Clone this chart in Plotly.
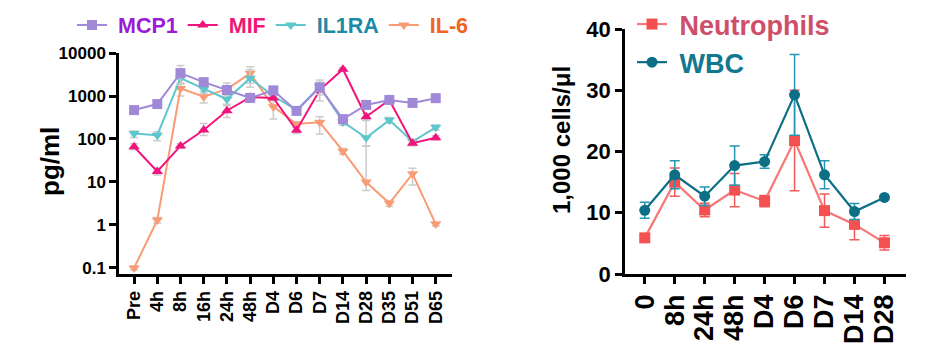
import plotly.graph_objects as go

# ---- Cytokine time course (pg/ml, log scale) ----
timepoints = ["Pre", "4h", "8h", "16h", "24h", "48h", "D4", "D6", "D7",
              "D14", "D28", "D35", "D51", "D65"]

mcp1 = [470, 650, 3400, 2100, 1380, 900, 1350, 450, 1590, 290, 620, 810, 690, 890]
mcp1_up = [80, 120, 1700, 400, 300, 100, 150, 60, 500, 40, 80, 80, 80, 90]
mcp1_dn = [80, 120, 1500, 400, 300, 100, 150, 60, 500, 40, 80, 80, 80, 90]

mif = [66, 17.5, 69, 162, 455, 940, 900, 160, 1370, 4200, 330, 810, 80, 107]
mif_up = [12, 3, 8, 68, 135, 100, 100, 25, 300, 300, 60, 80, 10, 12]
mif_dn = [10, 3, 8, 42, 140, 100, 100, 25, 300, 300, 60, 80, 10, 12]

il1ra = [134, 123, 2600, 1450, 840, 2600, 1000, 470, 1660, 250, 107, 275, 87, 187]
il1ra_up = [20, 25, 800, 300, 200, 1500, 200, 60, 700, 40, 190, 40, 12, 25]
il1ra_dn = [25, 32, 600, 300, 200, 1000, 200, 60, 900, 40, 38, 40, 12, 25]

il6 = [0.1, 1.3, 1500, 960, 1440, 3370, 565, 223, 244, 52, 10, 3.2, 15.5, 1.05]
il6_up = [0.01, 0.2, 400, 300, 560, 1400, 300, 30, 86, 8, 59, 0.5, 5.5, 0.1]
il6_dn = [0.01, 0.2, 500, 270, 500, 1400, 275, 30, 114, 8, 3.7, 0.5, 7, 0.1]

log_ticks = [0.1, 1, 10, 100, 1000, 10000]
log_tick_text = ["0.1", "1", "10", "100", "1000", "10000"]

# ---- Blood counts (1,000 cells/µl) ----
count_times = ["0", "8h", "24h", "48h", "D4", "D6", "D7", "D14", "D28"]
neutrophils = [5.9, 15.0, 10.45, 13.7, 11.9, 21.8, 10.35, 8.1, 5.1]
neutrophils_sd = [0.3, 2.3, 1.1, 2.7, 0.9, 8.2, 2.7, 2.5, 1.2]
wbc = [10.4, 16.2, 12.7, 17.7, 18.35, 29.25, 16.2, 10.2, 12.5]
wbc_sd = [1.3, 2.3, 1.5, 3.2, 1.1, 6.6, 2.3, 1.3, 0]

FONT = "Liberation Sans"
W, H = 951, 347
NBSP = "\u00a0"


def px_x(p):
    return p / W


def px_y(p):
    return 1 - p / H


def legend_name(text, color):
    return f'<span style="color:{color}">{NBSP}{text}</span>'


fig = go.Figure()

# cytokine traces, drawn so MCP1 sits on top
cyto = [
    ("IL-6", il6, il6_up, il6_dn, "#f99b74", "#f0641e", "triangle-down"),
    ("IL1RA", il1ra, il1ra_up, il1ra_dn, "#5ec6cd", "#1a8aa6", "triangle-down"),
    ("MIF", mif, mif_up, mif_dn, "#f0147c", "#ee1775", "triangle-up"),
    ("MCP1", mcp1, mcp1_up, mcp1_dn, "#a08ad8", "#9a1ad8", "square"),
]
for name, vals, up, dn, col, tcol, sym in cyto:
    fig.add_trace(go.Scatter(
        x=timepoints, y=vals, mode="lines+markers",
        name=legend_name(name, tcol),
        line=dict(color=col, width=2),
        marker=dict(color=col, symbol=sym, size=10),
        error_y=dict(type="data", symmetric=False, array=up, arrayminus=dn,
                     color="#cccccc", thickness=1.5, width=4),
        xaxis="x", yaxis="y", legend="legend", cliponaxis=False,
    ))

fig.add_trace(go.Scatter(
    x=count_times, y=neutrophils, mode="lines+markers",
    name=legend_name("Neutrophils", "#cf4f6a"),
    line=dict(color="#f77878", width=2.2),
    marker=dict(color="#f45050", symbol="square", size=11),
    error_y=dict(type="data", array=neutrophils_sd, color="#f05a5a",
                 thickness=1.5, width=5),
    xaxis="x2", yaxis="y2", legend="legend2", cliponaxis=False,
))
fig.add_trace(go.Scatter(
    x=count_times, y=wbc, mode="lines+markers",
    name=legend_name("WBC", "#127890"),
    line=dict(color="#0c6f86", width=2.2),
    marker=dict(color="#0c6f86", symbol="circle", size=11),
    error_y=dict(type="data", array=wbc_sd, color="#2596b4",
                 thickness=1.5, width=5),
    xaxis="x2", yaxis="y2", legend="legend2", cliponaxis=False,
))

axis_common = dict(
    showline=True, linecolor="black", linewidth=2.5, mirror=False,
    ticks="outside", ticklen=7, tickwidth=2.5, tickcolor="black",
    showgrid=False, zeroline=False, automargin=False,
)

fig.update_layout(
    width=W, height=H, autosize=False,
    margin=dict(l=0, r=0, t=0, b=0, pad=0),
    paper_bgcolor="white", plot_bgcolor="white",
    font=dict(family=FONT, color="black", weight="bold"),
    xaxis=dict(axis_common, type="category", domain=[px_x(119), px_x(452)],
               range=[-0.65, 13.7], tickangle=-90, anchor="y",
               tickmode="linear", tick0=0, dtick=1,
               tickfont=dict(size=18, family=FONT, weight="bold")),
    yaxis=dict(axis_common, type="log", domain=[px_y(274), px_y(53)],
               range=[-1.14, 4.0], tickvals=log_ticks, ticktext=log_tick_text,
               anchor="x", tickfont=dict(size=17, family=FONT, weight="bold")),
    xaxis2=dict(axis_common, type="category", domain=[px_x(625), px_x(906)],
                range=[-0.66, 8.72], tickangle=-90, anchor="y2",
                tickmode="linear", tick0=0, dtick=1,
                tickfont=dict(size=27, family=FONT, weight="bold")),
    yaxis2=dict(axis_common, domain=[px_y(274), px_y(29)], range=[0, 40],
                tickvals=[0, 10, 20, 30, 40], anchor="x2",
                tickfont=dict(size=22, family=FONT, weight="bold")),
    legend=dict(orientation="h", x=px_x(72), xanchor="left",
                y=px_y(25), yanchor="middle", traceorder="reversed",
                bgcolor="rgba(0,0,0,0)",
                font=dict(size=21.5, family=FONT, weight="bold")),
    legend2=dict(orientation="v", x=px_x(632), xanchor="left",
                 y=px_y(0), yanchor="top", bgcolor="rgba(0,0,0,0)",
                 tracegroupgap=0,
                 font=dict(size=27, family=FONT, weight="bold")),
    annotations=[
        dict(text="pg/ml", textangle=-90, x=px_x(50), y=px_y(162),
             xanchor="center", yanchor="middle",
             xref="paper", yref="paper", showarrow=False,
             font=dict(size=26, family=FONT, weight="bold")),
        dict(text="1,000 cells/\u03bcl", textangle=-90, x=px_x(561), y=px_y(140),
             xanchor="center", yanchor="middle",
             xref="paper", yref="paper", showarrow=False,
             font=dict(size=24, family=FONT, weight="bold")),
    ],
)

fig.write_html("out.html")
